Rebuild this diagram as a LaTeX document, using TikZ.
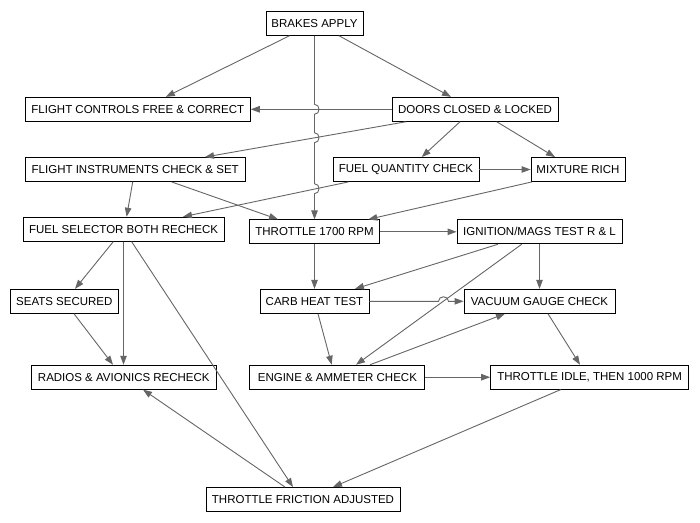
\documentclass[tikz,border=0pt]{standalone}
\usepackage{fontspec}
\setmainfont{Liberation Sans}
\usetikzlibrary{arrows.meta}
\definecolor{edgegray}{HTML}{666666}
\begin{document}
\begin{tikzpicture}[x=1pt,y=-1pt,
  stepbox/.style={draw=black,line width=0.9pt,fill=white,inner sep=0pt,
    minimum height=24pt,align=center,font=\fontsize{11.5}{13}\selectfont},
  flow/.style={draw=edgegray,line width=0.9pt,
    -{Triangle[length=9pt,width=6.5pt]},fill=none},
  flowtip/.style={fill=edgegray}]
\useasboundingbox[fill=white] (0,0) rectangle (700,522);

% checklist steps
\node[stepbox,minimum width=97pt]  (brakes)   at (314.5,23.3)  {BRAKES APPLY};
\node[stepbox,minimum width=225pt] (fcontrols) at (137.8,109.3) {FLIGHT CONTROLS FREE \& CORRECT};
\node[stepbox,minimum width=166pt] (doors)    at (475,109.3)   {DOORS CLOSED \& LOCKED};
\node[stepbox,minimum width=220pt] (finstr)   at (135.2,169.5) {FLIGHT INSTRUMENTS CHECK \& SET};
\node[stepbox,minimum width=146pt] (fuelqty)  at (406,169.5)   {FUEL QUANTITY CHECK};
\node[stepbox,minimum width=94pt]  (mixture)  at (578,169.5)   {MIXTURE RICH};
\node[stepbox,minimum width=201pt] (fuelsel)  at (123.6,229.2) {FUEL SELECTOR BOTH RECHECK};
\node[stepbox,minimum width=130pt] (tseventeen) at (314.5,231.8) {THROTTLE 1700 RPM};
\node[stepbox,minimum width=165pt] (ignition) at (539.5,231.8) {IGNITION/MAGS TEST R \& L};
\node[stepbox,minimum width=108pt] (seats)    at (64.3,301.3)  {SEATS SECURED};
\node[stepbox,minimum width=109pt] (carb)     at (314.5,301.3) {CARB HEAT TEST};
\node[stepbox,minimum width=151pt] (vacuum)   at (539.5,301.3) {VACUUM GAUGE CHECK};
\node[stepbox,minimum width=185pt] (radios)   at (123.8,377.2) {RADIOS \& AVIONICS RECHECK};
\node[stepbox,minimum width=175pt] (engine)   at (337.4,377.2) {ENGINE \& AMMETER CHECK};
\node[stepbox,minimum width=198pt] (tidle)    at (589.6,377.2) {THROTTLE IDLE, THEN 1000 RPM};
\node[stepbox,minimum width=194pt] (friction) at (303,499.5)   {THROTTLE FRICTION ADJUSTED};

% connectors
\draw[flow] ([xshift=-25pt]brakes.south) -- ([xshift=28pt]fcontrols.north);
\draw[flow] ([xshift=24.5pt]brakes.south) -- ([xshift=-24pt]doors.north);
% long drop with hops over three crossing lines
\draw[flow] (brakes.south) -- (314.5,104.3)
  .. controls (320.5,104.3) and (320.5,114.3) .. (314.5,114.3)
  -- (314.5,132.7)
  .. controls (320.5,132.7) and (320.5,142.7) .. (314.5,142.7)
  -- (314.5,183.7)
  .. controls (320.5,183.7) and (320.5,193.7) .. (314.5,193.7)
  -- (tseventeen.north);
\draw[flow] (doors.west) -- (fcontrols.east);
\draw[flow] ([xshift=-69pt]doors.south) -- ([xshift=69.8pt]finstr.north);
\draw[flow] ([xshift=-15pt]doors.south) -- ([xshift=15.7pt]fuelqty.north);
\draw[flow] ([xshift=21.7pt]doors.south) -- ([xshift=-23pt]mixture.north);
\draw[flow] (fuelqty.east) -- (mixture.west);
\draw[flow] ([xshift=-57.7pt]fuelqty.south) -- ([xshift=59.4pt]fuelsel.north);
\draw[flow] ([xshift=-2.5pt]finstr.south) -- ([xshift=3pt]fuelsel.north);
\draw[flow] ([xshift=36.5pt]finstr.south) -- ([xshift=-36.5pt]tseventeen.north);
\draw[flow] ([xshift=-46.3pt]mixture.south) -- ([xshift=53.8pt]tseventeen.north);
\draw[flow] (tseventeen.east) -- (ignition.west);
\draw[flow] (tseventeen.south) -- (carb.north);
\draw[flow] ([xshift=-41.5pt]ignition.south) -- ([xshift=40.5pt]carb.north);
\draw[flow] (ignition.south) -- (vacuum.north);
\draw[flow] ([xshift=-17.8pt]ignition.south) -- ([xshift=18.6pt]engine.north);
% hop over the ignition-to-engine line
\draw[flow] (carb.east) -- (438.5,301.3)
  .. controls (438.5,295.3) and (448.5,295.3) .. (448.5,301.3)
  -- (vacuum.west);
\draw[flow] ([xshift=3.5pt]carb.south) -- ([xshift=-5.7pt]engine.north);
\draw[flow] ([xshift=32.6pt]engine.north) -- ([xshift=-34.5pt]vacuum.south);
\draw[flow] (engine.east) -- (tidle.west);
\draw[flow] ([xshift=8.5pt]vacuum.south) -- ([xshift=-9.6pt]tidle.north);
\draw[flow] ([xshift=-10.3pt]fuelsel.south) -- ([xshift=10.7pt]seats.north);
\draw[flow] ([xshift=-0.1pt]fuelsel.south) -- ([xshift=-0.3pt]radios.north);
\draw[flow] ([xshift=8pt]fuelsel.south) -- ([xshift=-10pt]friction.north);
\draw[flow] ([xshift=9.7pt]seats.south) -- ([xshift=-10.8pt]radios.north);
\draw[flow] ([xshift=-18pt]friction.north) -- ([xshift=19.2pt]radios.south);
\draw[flow] ([xshift=-29pt]tidle.south) -- ([xshift=30pt]friction.north);
\end{tikzpicture}
\end{document}
